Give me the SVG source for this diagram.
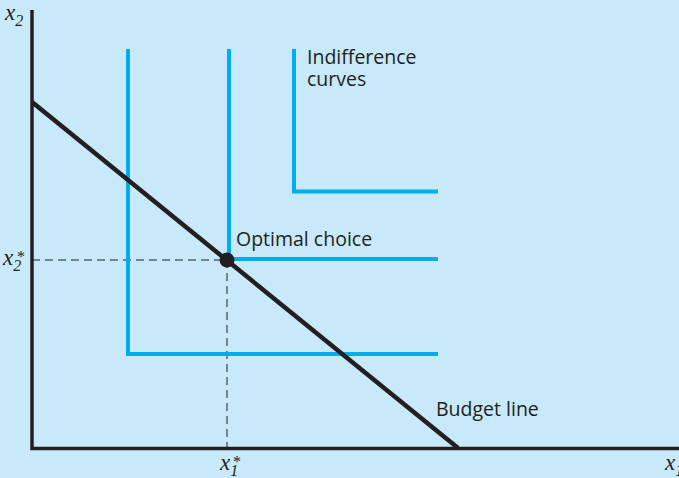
<svg xmlns="http://www.w3.org/2000/svg" width="679" height="478" viewBox="0 0 679 478">
<style>
.ic{fill:none;stroke:#00aeef;stroke-width:4}
.ax{fill:none;stroke:#231f20;stroke-width:3.5}
.bl{fill:none;stroke:#231f20;stroke-width:4.5}
.dash{fill:none;stroke:#231f20;stroke-width:1;stroke-dasharray:8,5}
.t{font-family:"Open Sans","Noto Sans",sans-serif;font-size:19.5px;fill:#231f20}
.m{font-family:"Liberation Serif",serif;font-style:italic;font-size:23px;fill:#231f20}
.s{font-family:"Liberation Serif",serif;font-style:italic;font-size:16px;fill:#231f20}
.st{font-family:"Liberation Serif",serif;font-size:16px;fill:#231f20}
</style>
<rect width="679" height="478" fill="#c8e9f9"/>
<g id="axes">
<path class="ax" d="M32,10 V448.5 H679"/>
</g>
<g id="connectors">
<path class="dash" d="M32,260 H227"/>
<path class="dash" d="M227,260 V448"/>
</g>
<g id="curve1"><path class="ic" d="M128,49 V354 H438"/></g>
<g id="curve2"><path class="ic" d="M229,49 V259 H438"/></g>
<g id="curve3"><path class="ic" d="M294,49 V191.5 H438"/></g>
<g id="budget"><path class="bl" d="M32,102 L458,448"/></g>
<g id="optimum"><circle cx="227" cy="260" r="7.5" fill="#231f20"/></g>
<g id="labels">
<text class="t" x="236" y="246">Optimal choice</text>
<text class="t" x="307" y="64">Indifference</text>
<text class="t" x="307" y="86">curves</text>
<text class="t" x="436" y="416">Budget line</text>
<text class="m" x="5" y="20">x<tspan class="s" dy="6">2</tspan></text>
<text class="m" x="3" y="265">x<tspan class="s" dy="6">2</tspan></text>
<text class="st" x="17" y="262">*</text>
<text class="m" x="220" y="470">x<tspan class="s" dy="6">1</tspan></text>
<text class="st" x="233" y="467">*</text>
<text class="m" x="665" y="470">x<tspan class="s" dy="6">1</tspan></text>
</g>
</svg>
